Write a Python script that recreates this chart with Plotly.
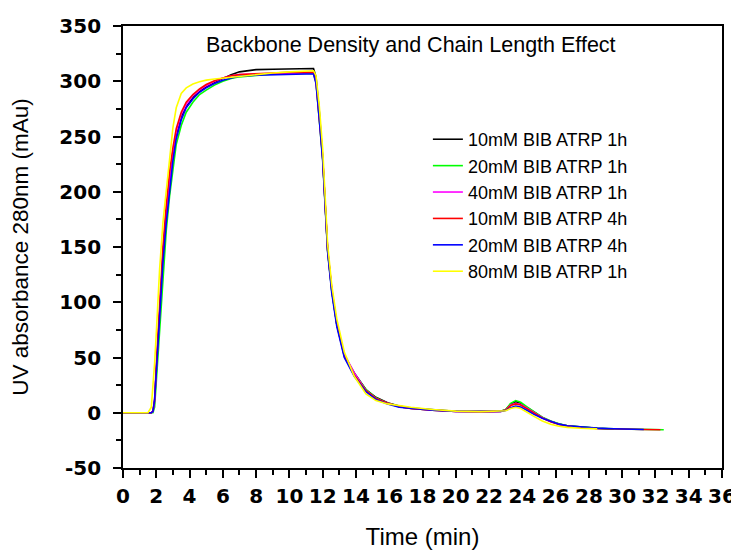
import plotly.graph_objects as go

time_min = [0, 1.5, 1.7, 1.8, 1.9, 2.0, 2.1, 2.2, 2.4, 2.6, 2.8, 3.0, 3.2, 3.5, 3.8, 4.2, 4.6, 5.0, 5.5, 6.0,
            6.5, 7.0, 8.0, 9.0, 10.0, 11.0, 11.45, 11.6, 11.8, 12.0, 12.3, 12.55, 12.85, 13.3, 13.9, 14.6,
            15.2, 15.9, 16.6, 17.3, 18.6, 20.0, 21.5, 22.7, 23.0, 23.3, 23.6, 23.9, 24.3, 24.7, 25.2, 25.7,
            26.2, 26.7, 27.5, 28.5, 29.5, 30.5, 31.3, 32.3, 32.5]

bib10_1h = [0, 0, 0, 1, 10, 38, 65, 92, 140, 178, 208, 233, 252, 268, 277, 285, 291, 295, 299, 302.5, 306,
            308.5, 310.5, 310.8, 311, 311.2, 311.5,
            304, 272, 231, 147, 110, 80, 52, 36, 21, 14, 9, 6, 4.2, 2.5, 1.3, 1.1, 1.3, 2.8, 8, 10, 8.5, 4.5,
            0.5, -4.2, -7.7, -10.2, -11.8, -13.1, -14.1, -14.7, None, None, None, None]

bib20_1h = [0, 0, 0, 0, 5, 28, 54, 80, 128, 165, 196, 222, 243, 260, 272, 281, 288, 292, 296.5, 300, 302.5,
            304, 305.5, 306.5, 307, 307, 307,
            299, 267, 230, 146, 110, 80, 52, 35, 21, 13.5, 8.5, 5.5, 4, 2.3, 1.3, 1.1, 1.3, 3, 8.5, 11, 9.5,
            5, 1, -4, -7.5, -10, -11.7, -13, -14, -14.6, -15, -15.2, -15.35, -15.4]

bib40_1h = [0, 0, 0, 1, 10, 38, 66, 93, 142, 180, 210, 235, 254, 270, 279, 287, 292, 296, 300, 303, 305,
            306, 306.5, 307, 307.5, 307.5, 307.5,
            299, 268, 232, 148, 111, 81, 53, 36, 20, 13, 8.5, 5.5, 4, 2.3, 1.2, 1.0, 1.2, 2.5, 7, 8.5, 7.5,
            3.8, 0, -4.5, -8, -10.5, -12, -13.2, None, None, None, None, None, None]

bib10_4h = [0, 0, 0, 1.5, 12, 42, 72, 100, 150, 188, 218, 240, 257, 272, 281, 288, 293, 297, 300.5, 303,
            305, 306, 307, 307.5, 308, 308, 308,
            300, 269, 231, 147, 112, 80, 51, 34, 20, 13, 8.5, 5.5, 4, 2.3, 1.2, 1.0, 1.2, 2.4, 6.5, 8, 7,
            3.5, -0.2, -4.8, -8.2, -10.6, -12, -13.3, -14.2, -14.7, -15.1, -15.2, -15.35, None]

bib20_4h = [0, 0, 0, 1, 12, 36, 60, 85, 136, 172, 202, 228, 248, 265, 276, 284, 290, 294, 298, 301, 303,
            304.5, 305.5, 306, 306.5, 306.5, 306.5,
            298, 265, 228, 145, 108, 78, 50, 33, 19, 12, 8, 5, 3.8, 2.2, 1.2, 1.0, 1.2, 2.0, 4.5, 6, 5.2,
            2, -1.5, -5, -8, -10.3, -11.8, -13, -13.9, -14.5, -14.9, -15.1, None, None]

bib80_1h = [0, 0, 5, 22, 45, 72, 100, 130, 172, 203, 233, 258, 276, 289, 294, 297.5, 299.5, 301, 302, 302.8,
            303.5, 304.5, 306.5, 307.5, 308.5, 309, 309.5,
            305, 277, 239, 152, 115, 85, 55, 33, 17, 11, 8, 6.3, 5, 3, 1.5, 1.0, 1.2, 1.8, 3.8, 5, 3.8,
            0, -3.3, -7.5, -10.5, -12.2, -13.2, -14, -14.6, None, None, None, None, None]

series_names = ["10mM BIB ATRP 1h", "20mM BIB ATRP 1h", "40mM BIB ATRP 1h",
                "10mM BIB ATRP 4h", "20mM BIB ATRP 4h", "80mM BIB ATRP 1h"]
series_values = [bib10_1h, bib20_1h, bib40_1h, bib10_4h, bib20_4h, bib80_1h]
series_colors = ["#000000", "#00ff00", "#ff00ff", "#ff0000", "#0000ff", "#ffff00"]

x_ticks = list(range(0, 37, 2))
y_ticks = list(range(-50, 351, 50))

fig = go.Figure()
for name, vals, col in zip(series_names, series_values, series_colors):
    fig.add_trace(go.Scatter(x=time_min, y=vals, mode="lines", name=name,
                             line=dict(color=col, width=1.6), connectgaps=False))

tick_font = dict(family="DejaVu Sans", size=20, color="black", weight="bold")

# page body has an 8px margin, so the figure is 8px smaller than the window
fig.update_layout(
    width=731, height=542,
    margin=dict(l=115, r=17, t=18, b=82),
    plot_bgcolor="white", paper_bgcolor="white",
    showlegend=True,
    legend=dict(x=0.509, y=0.785, xanchor="left", yanchor="top",
                font=dict(family="Liberation Sans, Arial", size=18, color="black"),
                bgcolor="rgba(0,0,0,0)", borderwidth=0, tracegroupgap=0),
    annotations=[dict(text="Backbone Density and Chain Length Effect", x=0.481, y=0.957,
                      xref="paper", yref="paper", xanchor="center", yanchor="middle",
                      showarrow=False,
                      font=dict(family="Liberation Sans, Arial", size=21.5, color="black"))],
)

fig.update_xaxes(range=[0, 36], tickvals=x_ticks, ticktext=[str(v) for v in x_ticks],
                 ticks="outside", ticklen=8, tickwidth=1.8, tickcolor="black",
                 minor=dict(dtick=1, ticks="outside", ticklen=5, tickwidth=1.5, tickcolor="black"),
                 showline=True, linewidth=1.8, linecolor="black", mirror=True,
                 showgrid=False, zeroline=False, tickfont=tick_font, ticklabelstandoff=1,
                 automargin=False,
                 title=dict(text="Time (min)", standoff=23,
                            font=dict(family="Liberation Sans, Arial", size=24, color="black")))

fig.update_yaxes(range=[-50, 350], tickvals=y_ticks, ticktext=[str(v) for v in y_ticks],
                 ticks="outside", ticklen=8, tickwidth=1.8, tickcolor="black",
                 minor=dict(dtick=25, ticks="outside", ticklen=5, tickwidth=1.5, tickcolor="black"),
                 showline=True, linewidth=1.8, linecolor="black", mirror=True,
                 showgrid=False, zeroline=False, tickfont=tick_font, ticklabelstandoff=8,
                 automargin=False,
                 title=dict(text="UV absorbance 280nm (mAu)", standoff=26,
                            font=dict(family="Liberation Sans, Arial", size=22.5, color="black")))

fig.write_html("out.html")
